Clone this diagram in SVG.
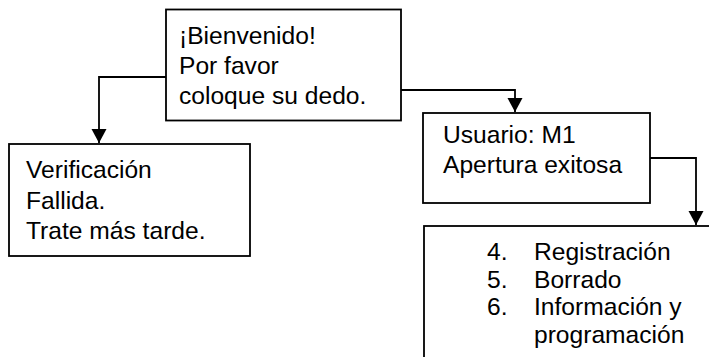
<svg xmlns="http://www.w3.org/2000/svg" width="709" height="357" viewBox="0 0 709 357">
<style>
.box{fill:#fff;stroke:#000;stroke-width:1.8}
.t{font-family:"Liberation Sans",Arial,sans-serif;font-size:24.6px;fill:#000}
.c{fill:none;stroke:#000;stroke-width:1.8}
</style>
<defs>
<marker id="ah" markerUnits="userSpaceOnUse" markerWidth="16" markerHeight="16" viewBox="0 0 16 16" refX="14" refY="8" orient="auto">
<path d="M0,0.5 L14,8 L0,15.5 Z" fill="#000"/>
</marker>
</defs>
<rect width="709" height="357" fill="#fff"/>
<g id="connectors">
<path class="c" d="M166,77 H99 V143" marker-end="url(#ah)"/>
<path class="c" d="M401,90 H515 V112" marker-end="url(#ah)"/>
<path class="c" d="M650,158 H696 V225" marker-end="url(#ah)"/>
</g>
<g id="welcome">
<rect class="box" x="166" y="9.5" width="235" height="111"/>
<text class="t" x="179" y="44">¡Bienvenido!</text>
<text class="t" x="179" y="74">Por favor</text>
<text class="t" x="179" y="104">coloque su dedo.</text>
</g>
<g id="failed">
<rect class="box" x="9" y="144" width="241" height="112"/>
<text class="t" x="26" y="178">Verificación</text>
<text class="t" x="26" y="208.5">Fallida.</text>
<text class="t" x="26" y="239">Trate más tarde.</text>
</g>
<g id="user">
<rect class="box" x="423" y="113" width="227" height="90"/>
<text class="t" x="443" y="143">Usuario: M1</text>
<text class="t" x="443" y="173">Apertura exitosa</text>
</g>
<g id="menu">
<rect class="box" x="424" y="226" width="300" height="150"/>
<text class="t" x="487" y="260">4.</text>
<text class="t" x="534" y="260">Registración</text>
<text class="t" x="487" y="287.5">5.</text>
<text class="t" x="534" y="287.5">Borrado</text>
<text class="t" x="487" y="315">6.</text>
<text class="t" x="534" y="315">Información y</text>
<text class="t" x="534" y="342.5">programación</text>
</g>
</svg>
